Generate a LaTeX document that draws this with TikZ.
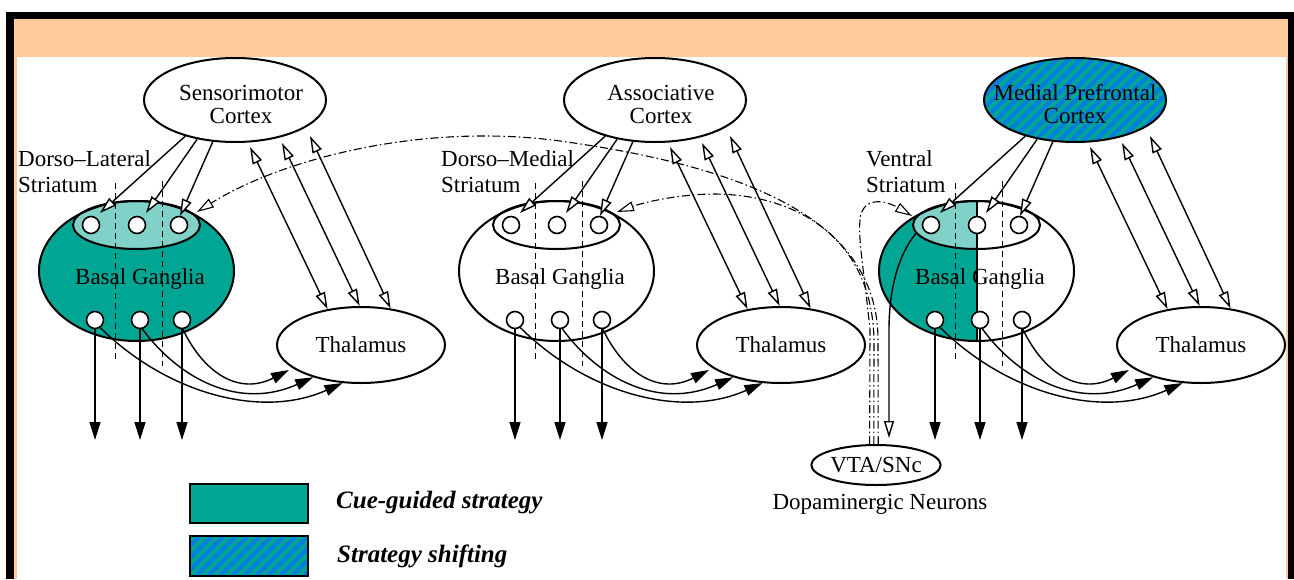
\documentclass[tikz,border=0pt]{standalone}
\usepackage{fontspec}
\setmainfont{Liberation Serif}
\usetikzlibrary{arrows.meta,shapes.geometric}
\definecolor{teal1}{RGB}{0,166,147}
\definecolor{lteal}{RGB}{128,210,200}
\definecolor{peach}{RGB}{255,204,153}
\definecolor{sblue}{RGB}{0,128,216}
\tikzset{
  fnt/.style={font=\fontsize{23}{23}\selectfont},
  lbl/.style={fnt, inner sep=0pt},
  lgd/.style={font=\fontsize{25}{25}\selectfont\bfseries\itshape, inner sep=0pt},
  ell/.style={ellipse, draw, line width=2pt, inner sep=0pt},
  arr/.style={line width=1.4pt},
  outarr/.style={arr, -{Triangle[length=18pt,width=11pt]}},
  tharr/.style={arr, -{Triangle[length=18pt,width=11pt]}},
  openarr/.style={arr, -{Triangle[fill=white,length=17pt,width=10pt]}},
  bidir/.style={arr, {Triangle[fill=white,length=17pt,width=10pt]}-{Triangle[fill=white,length=17pt,width=10pt]}},
  divline/.style={line width=1pt, dash pattern=on 6pt off 4pt},
  dopa/.style={line width=1.1pt, dash pattern=on 8pt off 3pt on 1.5pt off 3pt, -{Triangle[fill=white,length=17pt,width=10pt]}},
  circ/.style={circle, draw, fill=white, line width=1.6pt, minimum size=17pt, inner sep=0pt},
}
\begin{document}
\begin{tikzpicture}[x=1pt,y=-1pt]
\useasboundingbox (0,0) rectangle (1294,579);
% frame
\fill[black] (6,12) rectangle (1294,579);
\fill[peach] (14,19) rectangle (1288,579);
\fill[white] (17,57) rectangle (1286,579);

\foreach \m/\dx/\ctA/\ctx/\sl/\slx in {1/0/Sensorimotor/241/Dorso–Lateral/18,2/420/Associative/241/Dorso–Medial/21,3/840/Medial Prefrontal/235/Ventral/26}{
\begin{scope}[xshift=\dx]
  \ifnum\m=1
    \fill[teal1] (136.5,271) ellipse [x radius=97.5, y radius=70];
    \fill[lteal] (136.5,225) ellipse [x radius=63.5, y radius=24];
  \fi
  \ifnum\m=3
    \begin{scope}
      \clip (30,150) rectangle (136.5,360);
      \fill[teal1] (136.5,271) ellipse [x radius=97.5, y radius=70];
      \fill[lteal] (136.5,225) ellipse [x radius=63.5, y radius=24];
    \end{scope}
    \begin{scope}
      \clip (235,100) ellipse [x radius=91, y radius=42];
      \fill[teal1] (140,50) rectangle (330,150);
      \foreach \s in {30,42,...,340} \draw[sblue, line width=4.3pt] (\s,150) -- ++(100,-100);
    \end{scope}
  \fi
  \node[ell, minimum width=195, minimum height=140] (bg\m) at (136.5,271) {};
  \node[ell, minimum width=127, minimum height=48] (st\m) at (136.5,225) {};
  \ifnum\m=3
    \draw[line width=2pt] (bg\m.north) -- (bg\m.south);
  \fi
  \draw[divline] (115,183) -- (115,360);
  \draw[divline] (162,181) -- (162,366);
  \node[circ] (ct\m1) at (91,225) {};
  \node[circ] (ct\m2) at (137,225) {};
  \node[circ] (ct\m3) at (179,225) {};
  \node[circ] (cb\m1) at (95,320) {};
  \node[circ] (cb\m2) at (140,320) {};
  \node[circ] (cb\m3) at (182,320) {};
  \node[lbl, anchor=base] (bgt\m) at (140,284) {Basal Ganglia};
  \node[ell, minimum width=182, minimum height=84] (cx\m) at (235,100) {};
  \node[lbl, align=center] (cxt\m) at (\ctx,104) {\ctA\\Cortex};
  \node[lbl, anchor=base west] (sla\m) at (\slx,166) {\sl};
  \node[lbl, anchor=base west] (slb\m) at (\slx,192) {Striatum};
  \node[ell, fnt, minimum width=168, minimum height=76] (th\m) at (361,345) {Thalamus};
  % cortex -> striatum
  \coordinate (pa\m) at (100,213);
  \coordinate (pb\m) at (146,213);
  \coordinate (pc\m) at (180,216);
  \draw[openarr] (cx\m.216) -- (pa\m);
  \draw[openarr] (cx\m.226.5) -- (pb\m);
  \draw[openarr] (cx\m.242) -- (pc\m);
  % cortex <-> thalamus
  \coordinate (qa\m) at (250,147);
  \coordinate (qb\m) at (282,143);
  \coordinate (qc\m) at (310,136);
  \draw[bidir] (qa\m) -- (th\m.133);
  \draw[bidir] (qb\m) -- (th\m.92);
  \draw[bidir] (qc\m) -- (th\m.51);
  % outputs
  \coordinate (oa\m) at (95,440);
  \coordinate (ob\m) at (140,440);
  \coordinate (oc\m) at (182,440);
  \draw[outarr] (cb\m1.south) -- (oa\m);
  \draw[outarr] (cb\m2.south) -- (ob\m);
  \draw[outarr] (cb\m3.south) -- (oc\m);
  % to thalamus
  \coordinate (tc\m) at (289,370);
  \draw[tharr] (cb\m1.-55) .. controls (165,392) and (260,420) .. (th\m.244);
  \draw[tharr] (cb\m2.-75) .. controls (180,380) and (240,410) .. (th\m.214);
  \draw[tharr] (cb\m3.-85) .. controls (205,375) and (240,395) .. (tc\m);
\end{scope}
}

% VTA
\node[ell, fnt, minimum width=122, minimum height=40] (vta) at (876,465) {VTA/SNc};
\node[lbl, anchor=base] (dn) at (880,509) {Dopaminergic Neurons};
\coordinate (tv) at (889,438);
\draw[openarr] (st3.188) .. controls (898,255) and (889,290) .. (889,330) -- (tv);

% dopaminergic projections
\coordinate (tdl) at (197,212);
\coordinate (tdm) at (617,212);
\coordinate (tvs) at (912,216);
\draw[dopa] (vta.84) -- (878,340) .. controls (878,230) and (770,170) .. (560,141) .. controls (420,122) and (280,160) .. (tdl);
\draw[dopa] (vta.96) -- (874,340) .. controls (872,240) and (800,195) .. (715,194) .. controls (680,194) and (645,202) .. (tdm);
\draw[dopa] (vta.107) -- (870,330) .. controls (864,270) and (858,240) .. (860,220) .. controls (862,196) and (885,200) .. (tvs);

% legend
\node[draw, line width=2pt, fill=teal1, minimum width=118, minimum height=39, inner sep=0pt] (lg1) at (249,503.5) {};
\begin{scope}
  \clip (190,536) rectangle (308,576);
  \fill[teal1] (190,536) rectangle (308,576);
  \foreach \s in {120,132,...,320} \draw[sblue, line width=4.3pt] (\s,580) -- ++(60,-60);
\end{scope}
\node[draw, line width=2pt, minimum width=118, minimum height=40, inner sep=0pt] (lg2) at (249,556) {};
\node[lgd, anchor=base west] (lt1) at (336,508) {Cue-guided strategy};
\node[lgd, anchor=base west] (lt2) at (337,562) {Strategy shifting};
\end{tikzpicture}
\end{document}
